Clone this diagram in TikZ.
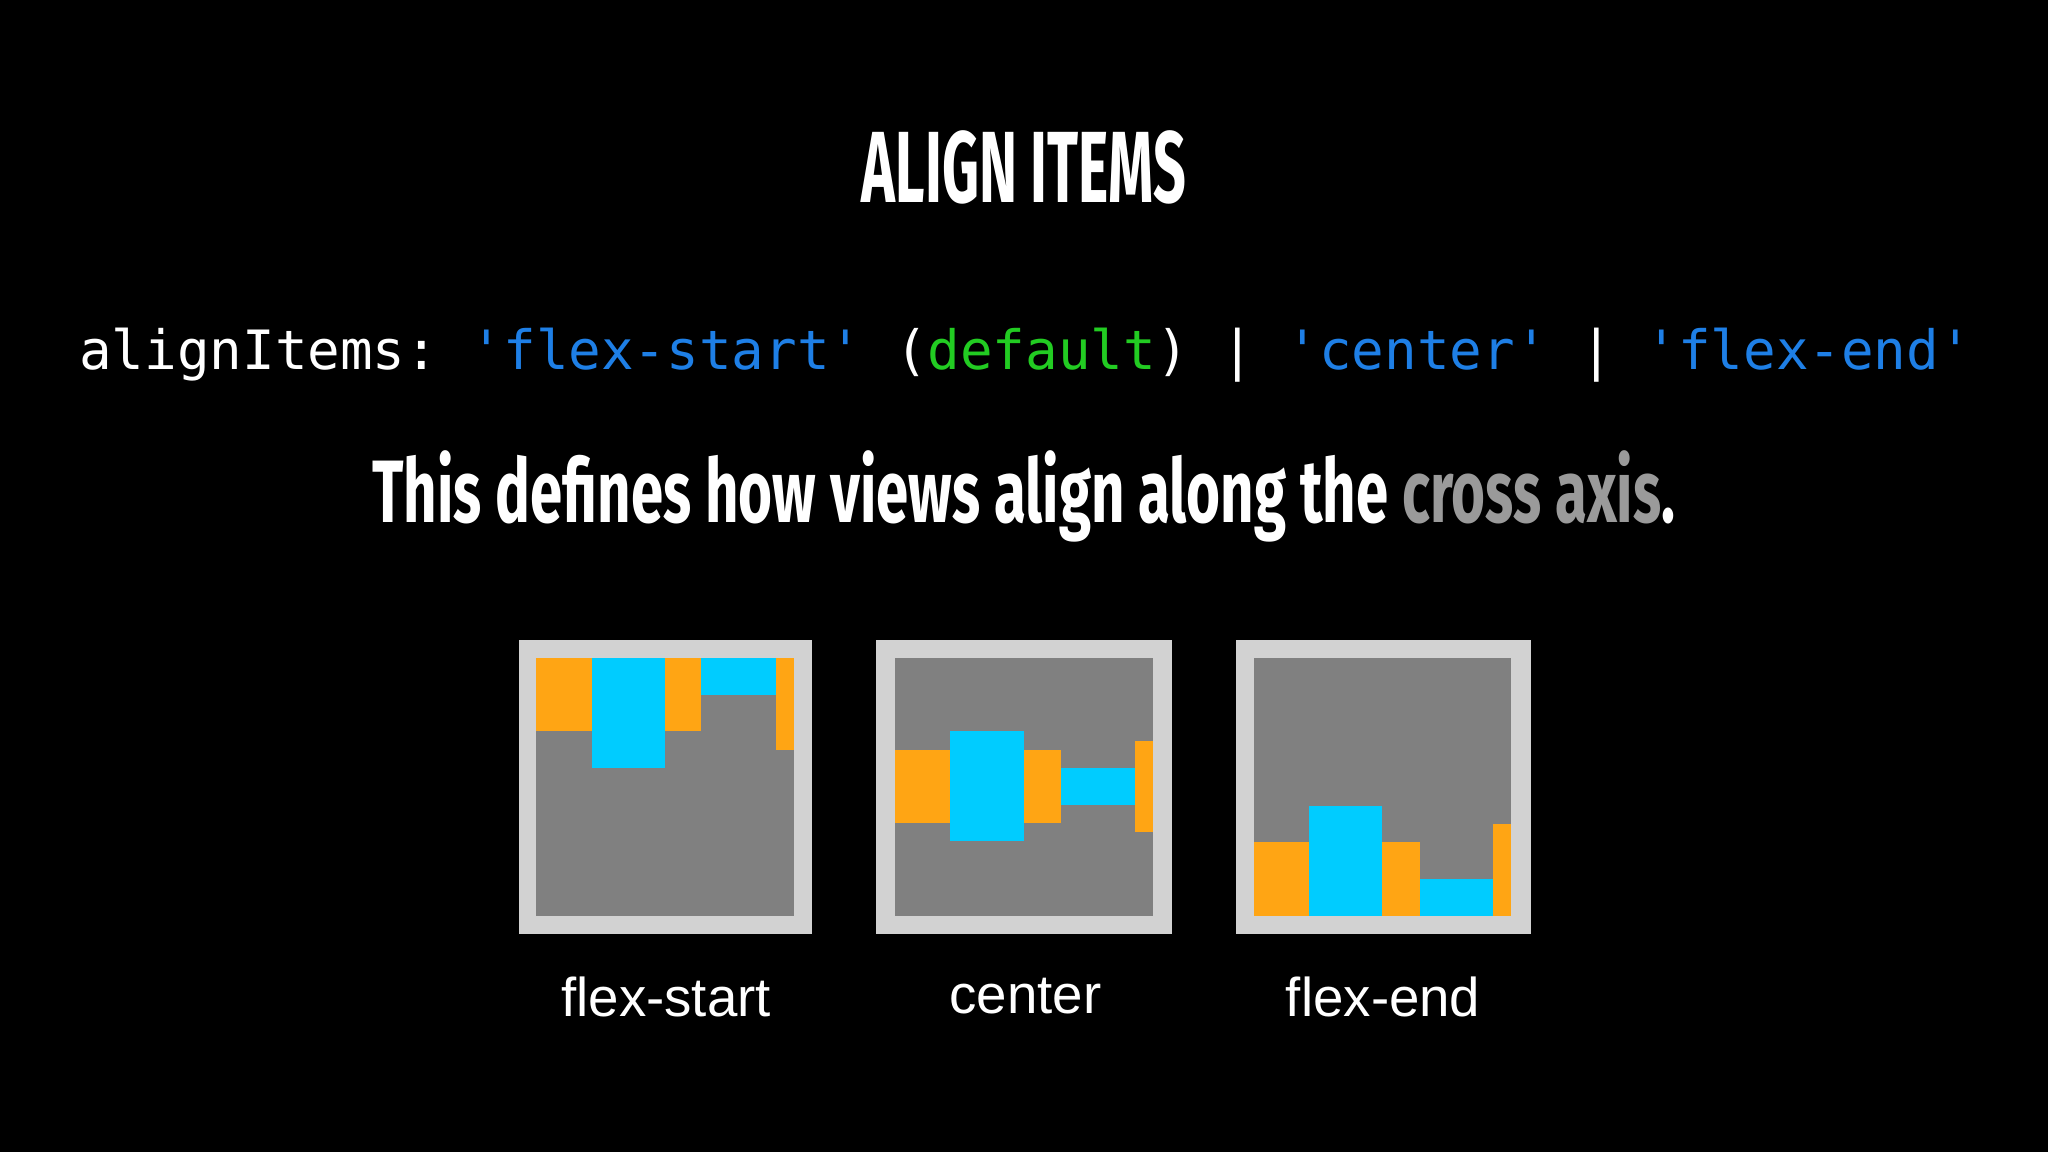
\documentclass[tikz,border=0pt]{standalone}
\usepackage{fontspec}
\setmainfont{Liberation Sans}
\newfontfamily\monof{DejaVu Sans Mono}
\newfontfamily\headf{Fira Sans}
\definecolor{codeblue}{HTML}{1E7FE6}
\definecolor{codegreen}{HTML}{22CC22}
\definecolor{frameg}{HTML}{D2D2D2}
\definecolor{innerg}{HTML}{808080}
\definecolor{itemor}{HTML}{FFA514}
\definecolor{itemcy}{HTML}{00CCFF}
\definecolor{crossg}{HTML}{9A9A9A}
\begin{document}
\begin{tikzpicture}[x=0.01cm,y=-0.01cm,
  frame/.style={fill=frameg},
  inner/.style={fill=innerg},
  ob/.style={fill=itemor},
  cb/.style={fill=itemcy},
  lbl/.style={text=white,font=\fontsize{11.9pt}{14pt}\selectfont,anchor=center}]
\fill[black] (0,0) rectangle (1568,882);
\node[text=white,anchor=center] (title) at (784,128) {\resizebox{2.48cm}{0.55cm}{\headf\bfseries ALIGN ITEMS}};
\node[anchor=west,inner sep=0,font=\monof\fontsize{11.8pt}{14pt}\selectfont] (code) at (60,272)
 {{\color{white}alignItems:~}{\color{codeblue}'flex-start'}{\color{white}~(}{\color{codegreen}default}{\color{white})~|~}{\color{codeblue}'center'}{\color{white}~|~}{\color{codeblue}'flex-end'}};
\node[text=white,anchor=center] (sub) at (784,380) {\resizebox{9.97cm}{0.55cm}{\headf\bfseries This defines how views align along the \textcolor{crossg}{cross axis}.}};
% box 1
\fill[frame] (397,490) rectangle (622,715);
\fill[inner] (410,504) rectangle (608,701);
\fill[ob] (410,504) rectangle (453,560);
\fill[cb] (453,504) rectangle (509,588);
\fill[ob] (509,504) rectangle (537,560);
\fill[cb] (537,504) rectangle (594,532);
\fill[ob] (594,504) rectangle (608,574);
% box 2
\fill[frame] (671,490) rectangle (897,715);
\fill[inner] (685,504) rectangle (883,701);
\fill[ob] (685,574) rectangle (727,630);
\fill[cb] (727,560) rectangle (784,644);
\fill[ob] (784,574) rectangle (812,630);
\fill[cb] (812,588) rectangle (869,616);
\fill[ob] (869,567) rectangle (883,637);
% box 3
\fill[frame] (946,490) rectangle (1172,715);
\fill[inner] (960,504) rectangle (1157,701);
\fill[ob] (960,645) rectangle (1002,701);
\fill[cb] (1002,617) rectangle (1058,701);
\fill[ob] (1058,645) rectangle (1087,701);
\fill[cb] (1087,673) rectangle (1143,701);
\fill[ob] (1143,631) rectangle (1157,701);
\node[lbl] (l1) at (510,763) {flex-start};
\node[lbl] (l2) at (785,763) {center};
\node[lbl] (l3) at (1059,763) {flex-end};
\end{tikzpicture}
\end{document}
